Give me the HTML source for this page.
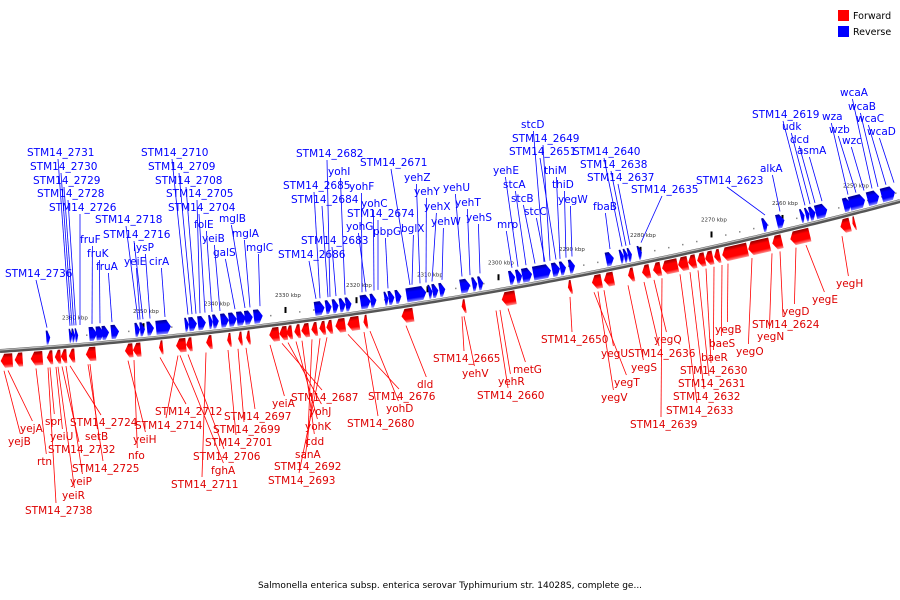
<!DOCTYPE html>
<html><head><meta charset="utf-8"><style>
body{margin:0;background:#fff;}
svg{display:block;font-family:"DejaVu Sans","Liberation Sans",sans-serif;}
</style></head><body>
<svg id="map" width="900" height="600" viewBox="0 0 900 600" xmlns="http://www.w3.org/2000/svg">
<defs>
<linearGradient id="gb" x1="0" y1="0" x2="0" y2="1"><stop offset="0" stop-color="#00008c"/><stop offset="0.3" stop-color="#0000ff"/><stop offset="0.75" stop-color="#0000ff"/><stop offset="1" stop-color="#9090ff"/></linearGradient>
<linearGradient id="gr" x1="0" y1="0" x2="0" y2="1"><stop offset="0" stop-color="#8c0000"/><stop offset="0.3" stop-color="#ff0000"/><stop offset="0.75" stop-color="#ff0000"/><stop offset="1" stop-color="#ff9090"/></linearGradient>
</defs>
<g>
<rect x="838" y="10" width="11" height="11" fill="#ff0000"/>
<text x="853" y="19" font-size="9.5">Forward</text>
<rect x="838" y="26" width="11" height="11" fill="#0000ff"/>
<text x="853" y="35" font-size="9.5">Reverse</text>
</g>
<text x="450" y="588" font-size="9" text-anchor="middle">Salmonella enterica subsp. enterica serovar Typhimurium str. 14028S, complete ge...</text>
<g id="marks"></g>
</svg>
<script>
// data arrays
const kbpLabels=["2360 kbp","2350 kbp","2340 kbp","2330 kbp","2320 kbp","2310 kbp","2300 kbp","2290 kbp","2280 kbp","2270 kbp","2260 kbp","2250 kbp"];
const kbpValues=[2360,2350,2340,2330,2320,2310,2300,2290,2280,2270,2260,2250];
const blueGenes=[[47,4],[70,3],[73,3],[76,3],[90,8],[97,8],[103,7],[112,8],[136,5],[141,5],[148,7],[157,15],[186,4],[190,8],[199,8],[210,4],[214,6],[222,8],[230,8],[238,9],[246,8],[255,9],[316,10],[327,6],[334,6],[341,6],[347,6],[362,10],[372,6],[386,4],[390,6],[397,6],[408,20],[430,4],[434,6],[441,6],[462,10],[474,5],[480,5],[511,6],[518,6],[524,10],[535,18],[554,8],[562,6],[571,6],[608,8],[622,4],[626,4],[630,4],[640,4],[765,5],[779,8],[803,4],[808,4],[812,6],[818,12],[846,8],[852,16],[870,12],[884,14]];
const redGenes=[[0,12],[14,8],[30,12],[46,6],[54,6],[60,6],[68,6],[85,10],[124,8],[132,8],[158,4],[175,10],[185,6],[205,6],[226,4],[237,4],[245,4],[268,10],[278,8],[285,6],[293,6],[300,8],[310,6],[318,6],[325,6],[334,10],[346,12],[362,4],[400,12],[460,4],[500,14],[566,4],[590,10],[602,10],[626,6],[640,8],[651,8],[660,16],[676,10],[686,8],[695,8],[703,8],[712,6],[720,26],[746,22],[770,10],[788,20],[838,10],[850,3]];
// blue labels: name, text x, baseline y, anchor x
const blueLabels=[["STM14_2731",27,156,70],["STM14_2730",30,170,72],["STM14_2729",33,184,74],["STM14_2728",37,197,76],["STM14_2726",49,211,80],["STM14_2736",5,277,47],["fruF",80,243,92],["fruK",87,257,100],["fruA",96,270,112],["STM14_2718",95,223,138],["STM14_2716",103,238,143],["lysP",133,251,150],["yeiE",124,265,140],["cirA",149,265,165],["STM14_2710",141,156,188],["STM14_2709",148,170,192],["STM14_2708",155,184,196],["STM14_2705",166,197,200],["STM14_2704",168,211,205],["folE",194,228,212],["yeiB",202,242,220],["mglB",219,222,245],["galS",213,256,235],["mglA",232,237,250],["mglC",246,251,260],["STM14_2682",296,157,330],["yohI",328,175,345],["STM14_2685",283,189,320],["STM14_2684",291,203,328],["yohF",349,190,362],["STM14_2671",360,166,410],["yehZ",404,181,420],["yehY",414,195,426],["yohC",361,207,374],["STM14_2674",347,217,378],["yohG",346,230,366],["pbpG",373,235,388],["bglX",401,232,412],["STM14_2683",301,244,336],["STM14_2686",278,258,316],["yehX",424,210,432],["yehW",431,225,442],["yehU",443,191,462],["yehT",455,206,470],["yehS",466,221,480],["mrp",497,228,512],["yehE",493,174,518],["stcA",503,188,526],["stcB",511,202,535],["stcC",524,215,545],["stcD",521,128,544],["STM14_2649",512,142,550],["STM14_2651",509,155,556],["thiM",544,174,560],["thiD",552,188,566],["yegW",558,203,572],["STM14_2640",573,155,622],["STM14_2638",580,168,626],["STM14_2637",587,181,630],["fbaB",593,210,610],["STM14_2635",631,193,641],["STM14_2623",696,184,765],["alkA",760,172,780],["STM14_2619",752,118,805],["udk",782,130,810],["dcd",790,143,815],["asmA",797,154,822],["wza",822,120,848],["wzb",829,133,856],["wzc",842,144,864],["wcaA",840,96,872],["wcaB",848,110,878],["wcaC",856,122,886],["wcaD",867,135,894]];
// red labels: name, text x, baseline y, anchor x
const redLabels=[["yejA",20,432,8],["yejB",8,445,4],["spr",45,425,50],["yeiU",50,440,56],["rtn",37,465,36],["STM14_2732",48,453,62],["STM14_2724",70,426,70],["setB",85,440,90],["yeiP",70,485,66],["yeiR",62,499,58],["STM14_2725",72,472,88],["STM14_2738",25,514,48],["yeiH",133,443,128],["nfo",128,459,134],["STM14_2712",155,415,160],["STM14_2714",135,429,178],["STM14_2706",193,460,188],["fghA",211,474,180],["STM14_2711",171,488,206],["STM14_2701",205,446,228],["STM14_2699",213,433,238],["STM14_2697",224,420,246],["yeiA",272,407,270],["STM14_2687",291,401,282],["yohJ",309,415,288],["yohK",305,430,296],["cdd",305,445,302],["sanA",295,458,312],["STM14_2692",274,470,320],["STM14_2693",268,484,327],["STM14_2680",347,427,364],["yohD",386,412,370],["STM14_2676",368,400,348],["dld",417,388,406],["STM14_2665",433,362,462],["yehV",462,377,464],["yehR",498,385,500],["metG",513,373,508],["STM14_2660",477,399,496],["STM14_2650",541,343,570],["yegU",601,357,604],["yegT",614,386,594],["yegV",601,401,598],["yegS",631,371,628],["STM14_2636",628,357,644],["yegQ",654,343,654],["STM14_2639",630,428,662],["STM14_2633",666,414,680],["STM14_2632",673,400,690],["STM14_2631",678,387,698],["STM14_2630",680,374,706],["baeR",701,361,714],["baeS",709,347,722],["yegB",715,333,728],["yegO",736,355,752],["yegN",757,340,772],["STM14_2624",752,328,780],["yegD",782,315,796],["yegE",812,303,806],["yegH",836,287,842]];

const NS="http://www.w3.org/2000/svg";
const g=document.getElementById('marks');
function Y(x){return 351-0.0667*x-0.000111*x*x;}
function slope(x){return -0.0667-0.000222*x;}
function kbpX(k){return 72+(2360-k)*7.1;}
function mk(t,a){const e=document.createElementNS(NS,t);for(const k in a)e.setAttribute(k,a[k]);g.appendChild(e);return e;}

// backbone
let d="";for(let x=0;x<=900;x+=5)d+=(x?"L":"M")+x+","+Y(x).toFixed(1);
let bb=mk('path',{d:d,stroke:"#555",'stroke-width':4,fill:"none"});


let bb2=mk('path',{d:d,transform:"translate(0,-1)",stroke:"#bbb",'stroke-width':1.2,fill:"none"});



// kbp ticks
kbpValues.forEach((k,i)=>{const x=kbpX(k);
 const t=mk('text',{x:x-10,y:Y(x)-26,'font-size':5.5,fill:"#333"});t.textContent=kbpLabels[i];
 
 
 const tk=mk('rect',{x:x-0.5,y:Y(x)-16,width:2,height:6,fill:"#000"});
 
 
 for(let j=1;j<5;j++){const xx=x+j*14;if(xx<900){const dt=mk('rect',{x:xx,y:Y(xx)-10,width:1.5,height:1.5,fill:"#888"});
  
  }}
});

function gene(x,w,blue){
 const a=Math.atan(slope(x))*180/Math.PI,y=Y(x);
 const tip=Math.min(4,w*0.6);
 const pts=blue?`0,-17 ${w-tip},-17 ${w},-10 ${w-tip},-3 0,-3`:`${tip},3 ${w},3 ${w},17 ${tip},17 0,10`;
 const p=mk('polygon',{points:pts,fill:blue?"url(#gb)":"url(#gr)",transform:`translate(${x},${y.toFixed(1)}) rotate(${a.toFixed(2)})`});
 return p;
}
blueGenes.forEach(([x,w])=>{const p=gene(x,w,true);
 
 });
redGenes.forEach(([x,w])=>{const p=gene(x,w,false);
 
 });

function tw(s){return s.length*6.2;}
blueLabels.forEach(([n,x,y,ax])=>{
 const l=mk('line',{x1:x+tw(n)/2,y1:y+3,x2:ax,y2:Y(ax)-20,stroke:"#0000ff",'stroke-width':0.8});
 
 
 const t=mk('text',{x:x,y:y,'font-size':10.5,fill:"#0000ff"});t.textContent=n;
 
 
});
redLabels.forEach(([n,x,y,ax])=>{
 const l=mk('line',{x1:x+tw(n)/2,y1:y-11,x2:ax,y2:Y(ax)+20,stroke:"#ff0000",'stroke-width':0.8});
 
 
 const t=mk('text',{x:x,y:y,'font-size':10.5,fill:"#dd0000"});t.textContent=n;
 
 
});
</script>
</body></html>
